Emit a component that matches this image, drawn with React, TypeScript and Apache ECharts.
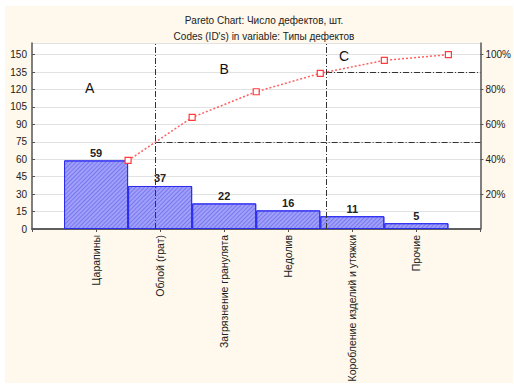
import React, { useEffect, useRef } from "react";
import * as echarts from "echarts";

const categories = [
  "Царапины",
  "Облой (грат)",
  "Загрязнение гранулята",
  "Недолив",
  "Коробление изделий и утяжки",
  "Прочие",
];
const counts = [59, 37, 22, 16, 11, 5];
const cumulativePct = [39.3, 64.0, 78.7, 89.3, 96.7, 100];
const countTicks = { min: 0, max: 160, interval: 15 };
const pctTicks = { min: 0, max: 106.667, interval: 20 };
const zoneCuts = [1.93, 4.59];
const zoneLevels = [50, 90];
const zoneLabels = [
  { name: "A", x: 0.9, y: 80.6 },
  { name: "B", x: 3.0, y: 92 },
  { name: "C", x: 4.87, y: 99 },
];

const FONT = "Arial, 'Liberation Sans', sans-serif";

export default function App() {
  const ref = useRef<HTMLDivElement>(null);
  useEffect(() => {
    if (!ref.current) return;
    const chart = echarts.init(ref.current, undefined, { renderer: "svg" });
    const catData = ["", ...categories, ""];
    const barData: any[] = ["-", ...counts, "-"];
    const lineData = cumulativePct.map((v, i) => [i + 1.5, v]);
    const markLines: any[] = [];
    zoneCuts.forEach((c, i) => {
      markLines.push([{ coord: [c, pctTicks.min] }, { coord: [c, pctTicks.max] }]);
      markLines.push([{ coord: [c, zoneLevels[i]] }, { coord: [categories.length + 1, zoneLevels[i]] }]);
    });
    chart.setOption({
      animation: false,
      backgroundColor: "#ffffff",
      textStyle: { fontFamily: FONT },
      graphic: [
        {
          type: "rect",
          z: -10,
          silent: true,
          shape: { x: 5, y: 6, width: 508, height: 377 },
          style: { fill: "#fef9ec" },
        },
        {
          type: "rect",
          z: -9,
          silent: true,
          shape: { x: 32, y: 43, width: 450, height: 186 },
          style: { fill: "#ffffff" },
        },
      ],
      title: {
        text: "Pareto Chart: Число дефектов, шт.\nCodes (ID's) in variable: Типы дефектов",
        left: 259,
        textAlign: "center",
        top: 7,
        textStyle: {
          fontSize: 10,
          fontWeight: "normal",
          color: "#222",
          lineHeight: 16,
          fontFamily: FONT,
        },
      },
      grid: { left: 32, right: 32, top: 43, bottom: 156 },
      xAxis: [
        {
          type: "category",
          data: catData,
          boundaryGap: false,
          position: "bottom",
          axisLine: { show: true, lineStyle: { color: "#555", width: 1.5 } },
          axisTick: { show: true, inside: false, length: 3, lineStyle: { color: "#555" } },
          axisLabel: {
            rotate: 90,
            fontSize: 10.5,
            color: "#222",
            margin: 6,
            interval: 0,
            fontFamily: FONT,
          },
          splitLine: { show: false },
        },
        {
          type: "value",
          min: 0,
          max: categories.length + 1,
          interval: 1,
          position: "top",
          axisLine: { show: true, lineStyle: { color: "#555", width: 1.5 } },
          axisTick: { show: true, inside: true, length: 3, lineStyle: { color: "#555" } },
          axisLabel: { show: false },
          splitLine: { show: false },
        },
      ],
      yAxis: [
        {
          type: "value",
          min: countTicks.min,
          max: countTicks.max,
          interval: countTicks.interval,
          position: "left",
          axisLine: { show: true, lineStyle: { color: "#555", width: 1.5 } },
          axisTick: { show: true, inside: true, length: 3, lineStyle: { color: "#555" } },
          axisLabel: {
            fontSize: 10,
            color: "#222",
            margin: 5,
            showMaxLabel: false,
            fontFamily: FONT,
          },
          splitLine: { show: true, lineStyle: { color: "#e2e2e2", width: 1 } },
        },
        {
          type: "value",
          min: pctTicks.min,
          max: pctTicks.max,
          interval: pctTicks.interval,
          position: "right",
          axisLine: { show: true, lineStyle: { color: "#555", width: 1.5 } },
          axisTick: { show: true, inside: false, length: 3, lineStyle: { color: "#555" } },
          axisLabel: {
            fontSize: 10,
            color: "#222",
            margin: 5,
            showMaxLabel: false,
            showMinLabel: false,
            formatter: (v: number) => `${Math.round(v)}%`,
            fontFamily: FONT,
          },
          splitLine: { show: false },
        },
      ],
      series: [
        {
          type: "bar",
          xAxisIndex: 0,
          yAxisIndex: 0,
          data: barData,
          barWidth: "100%",
          barGap: "-100%",
          itemStyle: {
            color: "#a0a0f8",
            borderColor: "#2d2df0",
            borderWidth: 1,
            decal: {
              symbol: "rect",
              symbolSize: 1,
              color: "rgba(80,80,235,0.5)",
              dashArrayX: [1, 0],
              dashArrayY: [1, 2],
              rotation: -Math.PI / 4,
            },
          },
          label: {
            show: true,
            position: "top",
            distance: 2,
            fontSize: 11,
            fontWeight: "bold",
            color: "#222",
            fontFamily: FONT,
          },
          z: 2,
        },
        {
          type: "line",
          xAxisIndex: 1,
          yAxisIndex: 1,
          data: lineData,
          symbol: "rect",
          symbolSize: 6,
          showSymbol: true,
          lineStyle: { color: "#ff6060", width: 1.5, type: [2, 2] },
          itemStyle: { color: "#ffffff", borderColor: "#ff3a3a", borderWidth: 1.2 },
          z: 5,
          markLine: {
            silent: true,
            symbol: ["none", "none"],
            label: { show: false },
            lineStyle: { color: "#333", width: 1, type: [6, 2, 1, 2] },
            data: markLines,
            z: 4,
          },
          markPoint: {
            silent: true,
            symbol: "rect",
            symbolSize: 1,
            itemStyle: { color: "rgba(0,0,0,0)" },
            label: {
              show: true,
              position: "inside",
              formatter: "{b}",
              fontSize: 14,
              color: "#111",
              fontFamily: FONT,
            },
            data: zoneLabels.map((z) => ({ name: z.name, coord: [z.x, z.y] })),
          },
        },
      ],
    });
    return () => chart.dispose();
  }, []);
  return (
    <div
      ref={ref}
      style={{ position: "fixed", left: 0, top: 0, width: 514, height: 385 }}
    />
  );
}
